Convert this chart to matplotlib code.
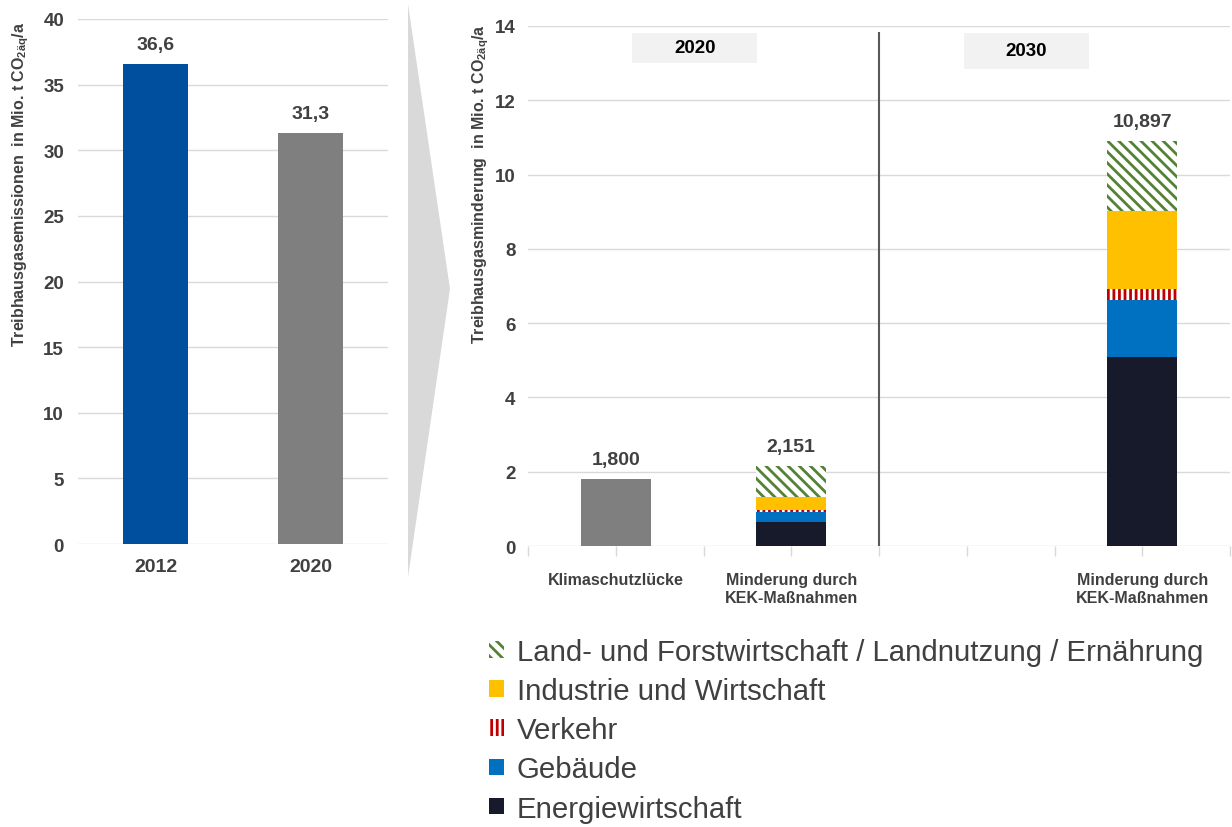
import matplotlib
matplotlib.use("Agg")
from matplotlib import pyplot as plt
from matplotlib import font_manager
from matplotlib.patches import Patch, Polygon, Rectangle
import numpy as np

# pick a condensed font if we have one
names = {f.name for f in font_manager.fontManager.ttflist}
if "Liberation Sans Narrow" in names:
    plt.rcParams["font.family"] = ["Liberation Sans Narrow", "DejaVu Sans"]
else:
    plt.rcParams["font.family"] = ["Liberation Sans", "DejaVu Sans"]
plt.rcParams["hatch.linewidth"] = 2.0

# left chart data
years = ["2012", "2020"]
emissions = [36.6, 31.3]
emission_labels = ["36,6", "31,3"]

# right chart data
categories = ["Klimaschutzlücke", "Minderung durch\nKEK-Maßnahmen", "", "Minderung durch\nKEK-Maßnahmen"]
gap = [1.800, 0, 0, 0]
sectors = ["Energiewirtschaft", "Gebäude", "Verkehr", "Industrie und Wirtschaft",
           "Land- und Forstwirtschaft / Landnutzung / Ernährung"]
energie = [0, 0.65, 0, 5.09]
gebaeude = [0, 0.27, 0, 1.54]
verkehr = [0, 0.05, 0, 0.29]
industrie = [0, 0.36, 0, 2.11]
land = [0, 0.821, 0, 1.867]
totals = ["1,800", "2,151", "", "10,897"]
periods = ["2020", "2030"]

sector_styles = [
    dict(color="#161a2b", hatch=None),
    dict(color="#0070c0", hatch=None),
    dict(color="#c00000", hatch="|||"),
    dict(color="#ffc000", hatch=None),
    dict(color="#548235", hatch="\\\\\\"),
]

txt = "#404040"
grid = "#d9d9d9"

fig = plt.figure(figsize=(12.32, 8.28), dpi=100)

# grey chevron between the charts
fig.patches.append(Polygon([(408 / 1232, 1 - 5 / 828), (450 / 1232, 1 - 290 / 828),
                            (408 / 1232, 1 - 578 / 828)], closed=True,
                           transform=fig.transFigure, facecolor="#d9d9d9",
                           edgecolor="none", zorder=0))

# ---- left chart
ax1 = fig.add_axes([78 / 1232, 1 - 545 / 828, 310 / 1232, 525 / 828])
x1 = np.arange(len(years))
bars = ax1.bar(x1, emissions, width=0.42, color=["#004f9f", "#7f7f7f"], zorder=3)
for b, lab in zip(bars, emission_labels):
    ax1.annotate(lab, (b.get_x() + b.get_width() / 2, b.get_height()),
                 xytext=(0, 8), textcoords="offset points", ha="center",
                 va="bottom", fontsize=14, fontweight="bold", color=txt)
ax1.set_ylim(0, 40)
ax1.set_xlim(-0.5, 1.5)
ax1.set_yticks(range(0, 41, 5))
ax1.set_xticks(x1)
ax1.set_xticklabels(years)
ax1.grid(axis="y", color=grid, lw=1, zorder=0)
for s in ax1.spines.values():
    s.set_visible(False)
ax1.tick_params(axis="y", length=0, labelsize=13.5, labelcolor=txt, pad=10)
ax1.tick_params(axis="x", length=0, labelsize=14, labelcolor=txt, pad=10)
for t in ax1.get_xticklabels() + ax1.get_yticklabels():
    t.set_fontweight("bold")
ax1.set_ylabel("Treibhausgasemissionen  in Mio. t CO$_{\\mathregular{2äq}}$/a",
               fontsize=11.5, fontweight="bold", color=txt)
ax1.yaxis.set_label_coords(-0.15, 0.686)

# ---- right chart
ax2 = fig.add_axes([528 / 1232, 1 - 547 / 828, 702 / 1232, 520 / 828])
x2 = np.arange(len(categories))
w = 0.4
ax2.bar(x2, gap, width=w, color="#7f7f7f", zorder=3)
bottom = np.zeros(len(categories))
handles = []
for name, vals, st in zip(sectors, [energie, gebaeude, verkehr, industrie, land], sector_styles):
    if st["hatch"]:
        ax2.bar(x2, vals, width=w, bottom=bottom, facecolor="white",
                edgecolor=st["color"], hatch=st["hatch"], linewidth=0, zorder=3)
        handles.append(Patch(facecolor="white", edgecolor=st["color"],
                             hatch=st["hatch"], linewidth=0, label=name))
    else:
        ax2.bar(x2, vals, width=w, bottom=bottom, color=st["color"], zorder=3)
        handles.append(Patch(facecolor=st["color"], label=name))
    bottom += np.array(vals)
bottom += np.array(gap)
for xi, top, lab in zip(x2, bottom, totals):
    if lab:
        ax2.annotate(lab, (xi, top), xytext=(0, 8), textcoords="offset points",
                     ha="center", va="bottom", fontsize=14, fontweight="bold", color=txt)

ax2.set_ylim(0, 14)
ax2.set_xlim(-0.5, 3.5)
ax2.set_yticks(range(0, 15, 2))
ax2.set_xticks(x2)
ax2.set_xticklabels(categories)
ax2.set_xticks(np.arange(-0.5, 3.6, 1.0), minor=True)
ax2.tick_params(axis="x", which="both", length=7, color=grid, width=1, pad=12,
                labelsize=11.5, labelcolor=txt)
ax2.tick_params(axis="y", length=0, labelsize=13.5, labelcolor=txt, pad=9)
for t in ax2.get_yticklabels():
    t.set_fontweight("bold")
for t in ax2.get_xticklabels():
    t.set_fontweight("semibold")
ax2.grid(axis="y", color=grid, lw=1, zorder=0)
for s in ax2.spines.values():
    s.set_visible(False)
ax2.set_ylabel("Treibhausgasminderung  in Mio. t CO$_{\\mathregular{2äq}}$/a",
               fontsize=11.5, fontweight="bold", color=txt)
ax2.yaxis.set_label_coords(-0.052, 0.698)

# divider between 2020 and 2030
ax2.vlines(1.5, 0, 13.85, color="#595959", lw=1.5, zorder=4)

# period boxes
for xc, yc, lab, hh in zip([0.45, 2.34], [13.41, 13.33], periods, [0.81, 0.97]):
    ax2.add_patch(Rectangle((xc - 0.355, yc - hh / 2), 0.71, hh, facecolor="#f2f2f2",
                            edgecolor="none", zorder=2))
    ax2.text(xc, yc, lab, ha="center", va="center", fontsize=13.5,
             fontweight="bold", color="black", zorder=5)

fig.legend(handles=handles[::-1], loc="upper left",
           bbox_to_anchor=(477 / 1232, 1 - 627 / 828), frameon=False,
           fontsize=21.2, handlelength=0.5, handleheight=0.5, handletextpad=0.45,
           labelspacing=0.38, labelcolor=txt, borderaxespad=0)

plt.savefig("out.png", dpi=100)
